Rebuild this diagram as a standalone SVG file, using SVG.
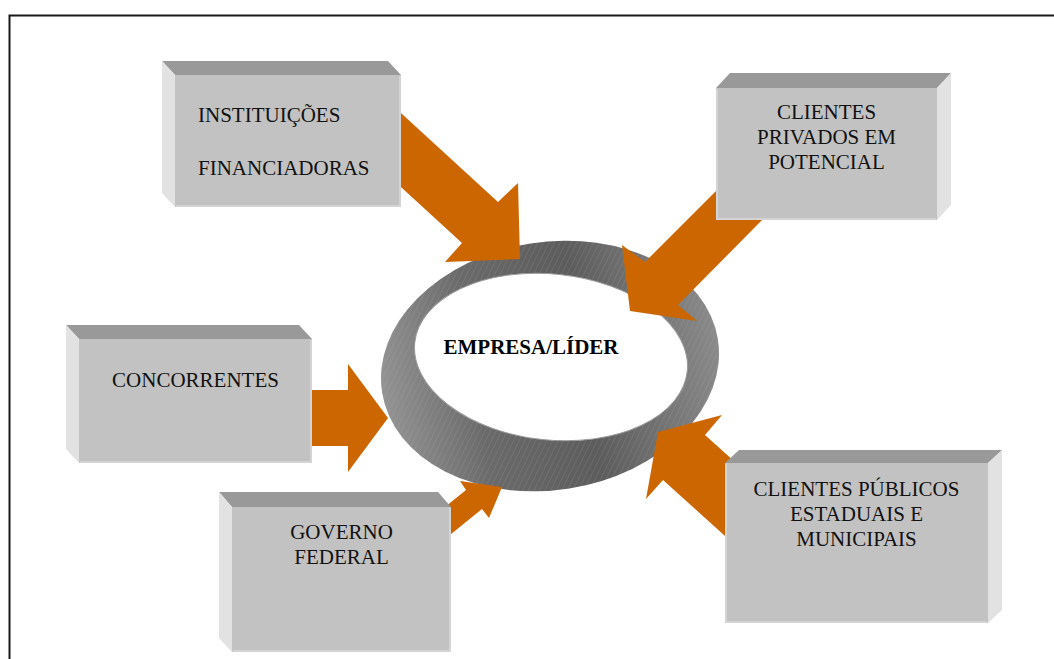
<svg xmlns="http://www.w3.org/2000/svg" width="1054" height="659" viewBox="0 0 1054 659">
  <style>
    .front { fill: #c2c2c2; }
    .top { fill: #999999; }
    .side { fill: #e2e2e2; }
    .edge { fill: none; stroke: #d4d4d4; stroke-width: 2; }
    .label { font-family: "Liberation Serif", "Times New Roman", serif; font-size: 21px; fill: #111; }
    .mid { text-anchor: middle; }
    .arrow { fill: #cc6600; }
    .core { font-family: "Liberation Serif", "Times New Roman", serif; font-size: 21px; font-weight: bold; fill: #000; text-anchor: middle; }
  </style>
  <defs>
    <linearGradient id="ringShade" x1="380" y1="0" x2="720" y2="0" gradientUnits="userSpaceOnUse">
      <stop offset="0" stop-color="#939393"/>
      <stop offset="0.28" stop-color="#6a6a6a"/>
      <stop offset="0.6" stop-color="#5c5c5c"/>
      <stop offset="1" stop-color="#8a8a8a"/>
    </linearGradient>
    <pattern id="hatch" width="5" height="5" patternUnits="userSpaceOnUse" patternTransform="rotate(35)">
      <line x1="0" y1="0" x2="0" y2="5" stroke="#bdbdbd" stroke-width="0.8" stroke-opacity="0.35"/>
    </pattern>
  </defs>

  <rect width="1054" height="659" fill="#ffffff"/>
  <!-- page frame, open to the right and bottom -->
  <rect x="9.5" y="15.5" width="1100" height="700" fill="none" stroke="#1a1a1a" stroke-width="2"/>

  <!-- central ring -->
  <g id="empresa-lider">
    <ellipse cx="550" cy="366" rx="170" ry="124" transform="rotate(-9 550 366)" fill="url(#ringShade)"/>
    <ellipse cx="550" cy="366" rx="170" ry="124" transform="rotate(-9 550 366)" fill="url(#hatch)"/>
    <ellipse cx="551" cy="357" rx="137" ry="83" transform="rotate(6 551 357)" fill="#ffffff" stroke="#9a9a9a" stroke-width="1"/>
    <text class="core" x="531" y="354">EMPRESA/LÍDER</text>
  </g>

  <!-- block arrows pointing at the ring -->
  <g id="connectors">
    <polygon class="arrow" points="390,103 498,202 518,183 520,259 445,262 462,243 390,177"/>
    <polygon class="arrow" points="730,177 645,262 622,245 630,311 697,321 678,305 775,207"/>
    <polygon class="arrow" points="300,390 348,390 348,364 388,418 348,472 348,446 300,446"/>
    <polygon class="arrow" points="440,511 466,490 460,481 502,487 489,518 482,509 440,543"/>
    <polygon class="arrow" points="745,471 705,435 722,415 658,432 646,499 663,480 745,554"/>
  </g>

  <g id="instituicoes">
    <polygon class="top" points="162,61 388,61 401,75 175,75"/>
    <polygon class="side" points="162,61 175,75 175,207 162,193"/>
    <rect class="front" x="175" y="75" width="226" height="132"/>
    <polyline class="edge" points="176,206 400,206 400,76"/>
    <text class="label" x="198" y="122">INSTITUIÇÕES</text>
    <text class="label" x="198" y="175">FINANCIADORAS</text>
  </g>

  <g id="clientes-privados">
    <polygon class="top" points="716,88 730,73 951,73 937,88"/>
    <polygon class="side" points="937,88 951,73 951,205 937,220"/>
    <rect class="front" x="716" y="88" width="221" height="132"/>
    <polyline class="edge" points="717,89 717,219 936,219"/>
    <text class="label mid" x="826.5" y="119">CLIENTES</text>
    <text class="label mid" x="826.5" y="144">PRIVADOS EM</text>
    <text class="label mid" x="826.5" y="169">POTENCIAL</text>
  </g>

  <g id="concorrentes">
    <polygon class="top" points="66,325 299,325 312,339 79,339"/>
    <polygon class="side" points="66,325 79,339 79,463 66,449"/>
    <rect class="front" x="79" y="339" width="233" height="124"/>
    <polyline class="edge" points="80,462 311,462 311,340"/>
    <text class="label mid" x="195.5" y="387">CONCORRENTES</text>
  </g>

  <g id="governo-federal">
    <polygon class="top" points="219,492 438,492 451,507 232,507"/>
    <polygon class="side" points="219,492 232,507 232,652 219,638"/>
    <rect class="front" x="232" y="507" width="219" height="145"/>
    <polyline class="edge" points="233,651 450,651 450,508"/>
    <text class="label mid" x="341.5" y="539">GOVERNO</text>
    <text class="label mid" x="341.5" y="564">FEDERAL</text>
  </g>

  <g id="clientes-publicos">
    <polygon class="top" points="725,463 739,450 1002,450 988,463"/>
    <polygon class="side" points="988,463 1002,450 1002,610 988,623"/>
    <rect class="front" x="725" y="463" width="263" height="160"/>
    <polyline class="edge" points="726,464 726,622 987,622"/>
    <text class="label mid" x="856.5" y="496">CLIENTES PÚBLICOS</text>
    <text class="label mid" x="856.5" y="521">ESTADUAIS E</text>
    <text class="label mid" x="856.5" y="546">MUNICIPAIS</text>
  </g>
</svg>
